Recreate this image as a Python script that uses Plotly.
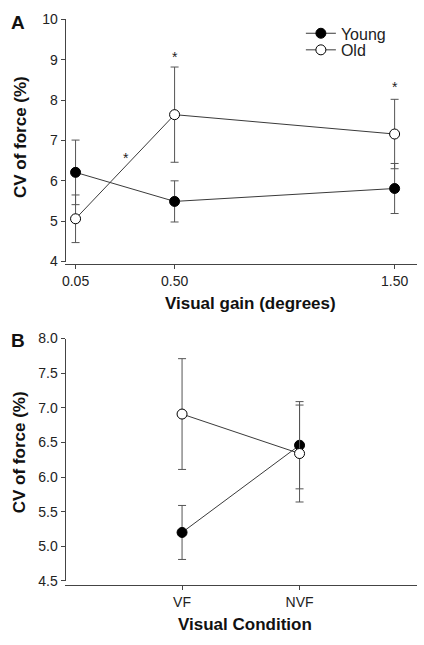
import plotly.graph_objects as go

# Panel A data
gain = [0.05, 0.50, 1.50]
young_a = [6.21, 5.49, 5.81]
young_a_err = [0.80, 0.51, 0.62]
old_a = [5.06, 7.64, 7.16]
old_a_err = [0.59, 1.18, 0.86]
star_a_x = [0.28, 0.50, 1.50]
star_a_y = [6.57, 9.08, 8.32]
gain_ticks = ["0.05", "0.50", "1.50"]

# Panel B data
cond = ["VF", "NVF"]
young_b = [5.20, 6.46]
young_b_err = [0.39, 0.63]
old_b = [6.91, 6.34]
old_b_err = [0.80, 0.70]

W, H = 424, 645
FONT = "Arial, Liberation Sans, Helvetica, sans-serif"
LINE = "#3a3a3a"
ERR = "#555555"
AX = "#444444"

def px(x):
    return x / W

def py(y):
    return 1 - y / H

fig = go.Figure()

def add_series(x, y, err, filled, name, xa, ya, show, legend="legend"):
    fig.add_trace(go.Scatter(
        x=x, y=y, mode="lines+markers", name=name, showlegend=show,
        xaxis=xa, yaxis=ya, legend=legend, cliponaxis=False,
        line=dict(color=LINE, width=1),
        marker=dict(size=10, symbol="circle",
                    color="black" if filled else "white",
                    line=dict(color="black", width=1)),
        error_y=dict(type="data", array=err, visible=True,
                     color=ERR, thickness=1, width=4),
    ))

add_series(gain, young_a, young_a_err, True, "Young", "x", "y", True, "legend")
add_series(gain, old_a, old_a_err, False, "Old", "x", "y", True, "legend2")
add_series(cond, young_b, young_b_err, True, "Young", "x2", "y2", False)
add_series(cond, old_b, old_b_err, False, "Old", "x2", "y2", False)

annotations = []
for sx, sy in zip(star_a_x, star_a_y):
    annotations.append(dict(x=sx, y=sy, xref="x", yref="y", text="*",
                            showarrow=False, font=dict(size=14, color="#222", family=FONT)))

def ann(text, x, y, size, angle=0):
    annotations.append(dict(x=px(x), y=py(y), xref="paper", yref="paper",
                            text=text, showarrow=False, textangle=angle,
                            xanchor="center", yanchor="middle",
                            font=dict(size=size, color="#111", family=FONT)))

ann("<b>A</b>", 15, 15, 19)
ann("<b>B</b>", 15, 341, 19)
ann("<b>CV of force (%)</b>", 17, 132.5, 17, -90)
ann("<b>CV of force (%)</b>", 17, 455.7, 17, -90)
ann("<b>Visual gain (degrees)</b>", 249, 303, 17)
ann("<b>Visual Condition</b>", 243.5, 631.7, 17)

axis_common = dict(showline=True, linecolor=AX, linewidth=1, ticks="outside",
                   ticklen=4, tickcolor=AX, tickwidth=1, showgrid=False,
                   zeroline=False, mirror=False,
                   tickfont=dict(size=14, color="#222", family=FONT))

leg_common = dict(xanchor="left", yanchor="middle",
                  font=dict(size=16, color="#222", family=FONT),
                  bgcolor="rgba(0,0,0,0)", itemwidth=30)

fig.update_layout(
    width=W, height=H, margin=dict(l=0, r=0, t=0, b=0),
    paper_bgcolor="white", plot_bgcolor="white",
    font=dict(family=FONT),
    xaxis=dict(domain=[px(62), px(417)], anchor="free", position=py(263),
               range=[0.0, 1.602], tickvals=gain, ticktext=gain_ticks,
               **axis_common),
    yaxis=dict(domain=[py(260), py(11.7)], anchor="free", position=px(62),
               range=[4, 10], tickvals=[4, 5, 6, 7, 8, 9, 10], **axis_common),
    xaxis2=dict(domain=[px(62), px(417)], anchor="free", position=py(591.7),
                type="category", range=[-1, 2], **axis_common),
    yaxis2=dict(domain=[py(587.5), py(339)], anchor="free", position=px(62),
                range=[4.5, 8.0],
                tickvals=[4.5, 5.0, 5.5, 6.0, 6.5, 7.0, 7.5, 8.0],
                tickformat=".1f", **axis_common),
    legend=dict(x=px(300), y=py(26), **leg_common),
    legend2=dict(x=px(300), y=py(43), **leg_common),
    annotations=annotations,
    showlegend=True,
)

fig.write_html("out.html", config={"displayModeBar": False},
               post_script="document.body.style.margin='0';document.body.style.overflow='hidden';")
